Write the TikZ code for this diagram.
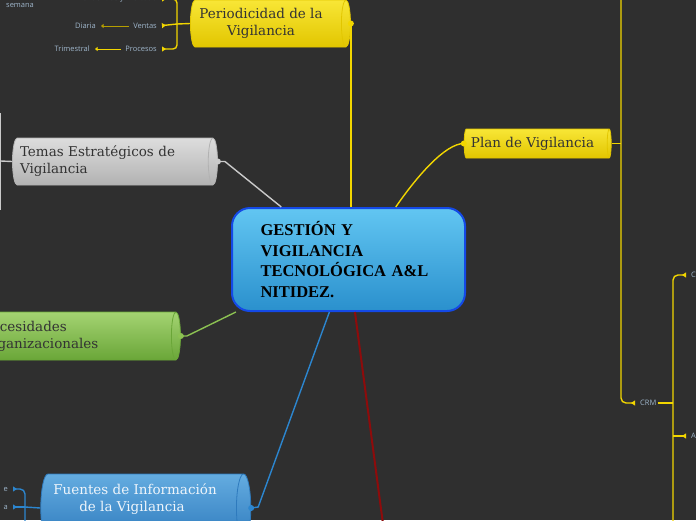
\documentclass[tikz,border=0pt]{standalone}
\usepackage{fontspec}
\usetikzlibrary{arrows.meta,positioning,calc,shapes.geometric}
\newfontfamily\topicfont{DejaVu Serif}
\newfontfamily\hubfont{Liberation Serif}
\newfontfamily\leaffont{Open Sans}
\definecolor{board}{HTML}{2F2F2F}
\definecolor{leafink}{HTML}{9FB6CB}
\definecolor{sun}{HTML}{F2D600}
\definecolor{sunhi}{HTML}{F8E636}
\definecolor{sunlo}{HTML}{E2C600}
\definecolor{sky}{HTML}{62C6F2}
\definecolor{skylo}{HTML}{2A90CD}
\definecolor{skyedge}{HTML}{1449E6}
\definecolor{ash}{HTML}{CACACA}
\definecolor{ashhi}{HTML}{DDDDDD}
\definecolor{ashlo}{HTML}{B2B2B2}
\definecolor{moss}{HTML}{8CC152}
\definecolor{mosshi}{HTML}{A4D372}
\definecolor{mosslo}{HTML}{6AA638}
\definecolor{sea}{HTML}{2C86CF}
\definecolor{seahi}{HTML}{64ACE0}
\definecolor{sealo}{HTML}{2E7ABD}
\definecolor{wine}{HTML}{8E0B0B}

\begin{document}
\begin{tikzpicture}[x=1pt, y=-1pt,
    hubbox/.style={draw=skyedge, line width=2pt, top color=sky, bottom color=skylo, rounded corners=18pt, minimum width=233pt, minimum height=103pt, text width=176pt, align=left, inner sep=0pt, font=\hubfont\bfseries\fontsize{16.5}{20.5}\selectfont},
    topic/.style={cylinder, shape border rotate=0, aspect=0.3, line width=0.8pt, inner sep=0pt, font=\topicfont\fontsize{13.5}{17}\selectfont, text=black!80},
    sunny/.style={topic, draw=sunlo, top color=sunhi, bottom color=sunlo},
    ashy/.style={topic, draw=ashlo, top color=ashhi, bottom color=ashlo},
    mossy/.style={topic, draw=mosslo, top color=mosshi, bottom color=mosslo},
    sealy/.style={topic, draw=sealo, top color=seahi, bottom color=sealo, text=white!92!sea},
    leaf/.style={font=\leaffont\fontsize{7.5}{9}\selectfont, text=leafink, inner sep=1pt},
    wire/.style={line width=1.4pt},
    tip/.style={-{Triangle[reversed, length=4pt, width=5pt]}, shorten >=4pt},
    backtip/.style={-{Triangle[length=2.5pt, width=4pt]}, shorten >=4pt, shorten <=3pt},
  ]
% --- Background ------------------------------------------------------------------
\useasboundingbox (0,0) rectangle (696,520);
\fill[board] (0,0) rectangle (696,520);

% --- Central topic -----------------------------------------------------------------
\node[hubbox] (hub) at (348.5,259.5) {GESTIÓN Y\\VIGILANCIA\\TECNOLÓGICA A\&L\\NITIDEZ.};

% --- Main topics (cylinders: minimum height is their length) -----------------------
\node[sunny, minimum width=47pt, minimum height=160pt, align=center] (period) at (268,23.5) {Periodicidad de la\hspace*{14pt}\\Vigilancia\hspace*{14pt}};
\node[ashy, minimum width=47pt, minimum height=205pt, text width=185pt, align=left] (temas) at (112.5,161.5) {Temas Estratégicos de\\Vigilancia};
\node[sunny, minimum width=29pt, minimum height=147pt] (plan) at (536.5,143.5) {Plan de Vigilancia\hspace*{8pt}};
\node[mossy, minimum width=48pt, minimum height=212pt, text width=184pt, align=left] (necesidades) at (72,336) {Necesidades\\Organizacionales};
\node[sealy, minimum width=68pt, minimum height=210pt, align=center, text depth=20pt] (fuentes) at (142,508) {Fuentes de Información\hspace*{14pt}\\de la Vigilancia\hspace*{20pt}};

% --- Sub topics ----------------------------------------------------------------------
\node[leaf, anchor=east] (tendencias) at (158,-1) {Tendencias y mercado};
\node[leaf, anchor=east] (ventas) at (158,26) {Ventas};
\node[leaf, anchor=east] (procesos) at (158,49) {Procesos};
\node[leaf, anchor=east] (diaria) at (97,26) {Diaria};
\node[leaf, anchor=east] (trimestral) at (91,49) {Trimestral};
\node[leaf, anchor=west] (semana) at (5,5) {semana};
\node[leaf, anchor=west] (crm) at (639,403) {CRM};
\node[leaf, anchor=west] (cnode) at (690,275) {C};
\node[leaf, anchor=west] (anode) at (690,436) {A};
\node[leaf, anchor=east] (fe) at (9,489) {e};
\node[leaf, anchor=east] (fa) at (9,507) {a};

% --- Forks ------------------------------------------------------------------------------
\coordinate (pfork) at (177,24);
\coordinate (tfork) at (0.7,161);
\coordinate (plantop) at (621,-4);
\coordinate (crmfork) at (673,403);
\coordinate (crmlow) at (673,524);
\coordinate (ffork) at (25,507);
\coordinate (ffoot) at (25,524);
\coordinate (wineend) at (383,524);

% --- Connectors (drawn last) ---------------------------------------------------------
\draw[wire, sun] (period.east) -- (period.east |- hub.north);
\draw[wire, sun] (hub.48) .. controls +(22,-32) and +(-18,0) .. (plan.west);
\draw[wire, ash] (temas.east) -- ++(7,0) -- (hub.142);
\draw[wire, moss] (necesidades.east) -- ++(6,0) -- (hub.205);
\draw[wire, sea] (fuentes.east) -- ++(7,-1) -- (hub.250);
\draw[wire, wine, line width=2pt] (hub.277) -- (wineend);
\foreach \n/\c in {period.east/sun, plan.west/sun, temas.east/ash, necesidades.east/moss, fuentes.east/sea}
  \fill[\c] (\n) circle (3pt);

\draw[wire, sun] (period.west) -- (pfork);
\draw[wire, sun, tip, rounded corners=4pt] (pfork) |- (tendencias.east);
\draw[wire, sun, tip] (pfork) -- (ventas.east);
\draw[wire, sun, tip, rounded corners=4pt] (pfork) |- (procesos.east);
\draw[wire, sunlo!80!black, line width=1pt, backtip] (ventas.west) -- (diaria.east);
\draw[wire, sun, line width=1pt, backtip] (procesos.west) -- (trimestral.east);
\draw[wire, sun] (tendencias.west) -- ++(-28,0);

\draw[wire, ash] (temas.west) -- (tfork);
\draw[wire, ash] (0.7,113) -- (0.7,210);

\draw[wire, sun] (plan.east) -- (plan.east -| plantop);
\draw[wire, sun, tip, rounded corners=5pt] (plantop) |- (crm.west);
\draw[wire, sun] (crm.east) -- (crmfork);
\draw[wire, sun, tip, rounded corners=5pt] (crmlow) |- (cnode.west);
\draw[wire, sun, tip] (crmfork |- anode) -- (anode.west);

\draw[wire, sea] (fuentes.west) -- (ffork);
\draw[wire, sea, tip, rounded corners=5pt] (ffoot) |- (fe.east);
\draw[wire, sea, tip] (ffork) -- (fa.east);
\end{tikzpicture}
\end{document}
